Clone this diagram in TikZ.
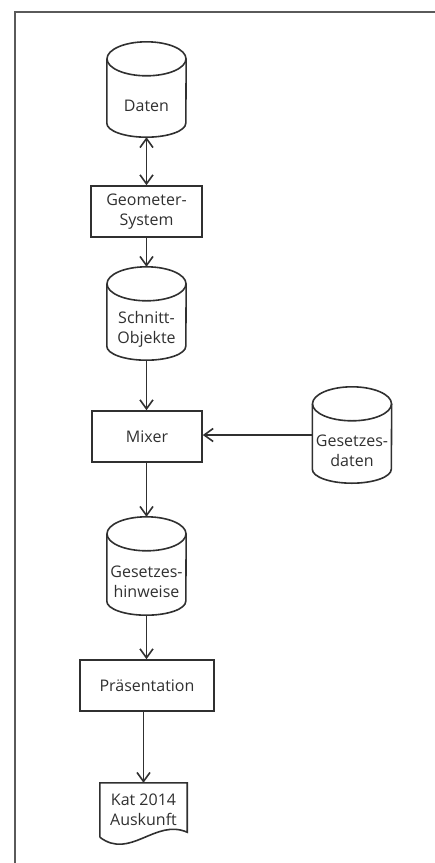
\documentclass[tikz,border=0pt]{standalone}
\usepackage{fontspec}
\setmainfont{Open Sans}
\usetikzlibrary{arrows.meta}
\definecolor{ink}{HTML}{303030}
\definecolor{frame}{HTML}{5A5A5A}
\tikzset{
  line/.style={draw=ink,line width=1.6pt},
  arr/.style={line,-{Straight Barb[length=9pt,width=13pt]}},
  dblarr/.style={line,{Straight Barb[length=9pt,width=13pt]}-{Straight Barb[length=9pt,width=13pt]}},
  txt/.style={text=ink,align=center,inner sep=0pt,font=\fontsize{16}{20.5}\selectfont},
  procbox/.style={txt,draw=ink,line width=1.6pt,minimum height=51pt,minimum width=#1},
  cylbox/.style={draw=none,inner sep=0pt,minimum width=79pt},
  docbox/.style={txt,draw=none,minimum width=87pt,minimum height=54pt},
}
\newcommand\mycyl[5]{%
  \node[cylbox,minimum height=#4] (#1) at (#2,#3) {};
  \draw[line] ([yshift=-17pt]#1.north west) -- ([yshift=14pt]#1.south west)
     arc[start angle=180,end angle=360,x radius=39.5pt,y radius=14pt]
     -- ([yshift=-17pt]#1.north east);
  \draw[line] ([yshift=-17pt]#1.north) ellipse[x radius=39.5pt,y radius=17pt];
  \node[txt] (#1-t) at ([yshift=-16pt]#1.center) {#5};
}
\begin{document}
\begin{tikzpicture}[x=1pt,y=-1pt]
\useasboundingbox (0,0) rectangle (435,863);
\coordinate (fb) at (15,863);
\coordinate (fc) at (15,12);
\coordinate (fr) at (435,12);
\draw[draw=frame,line width=1.2pt] (fb) -- (fc) -- (fr);

\mycyl{daten}{146.5}{89.5}{95pt}{Daten}
\node[procbox=111pt] (geo) at (146.5,211.5) {Geometer-\\System};
\mycyl{schnitt}{146.5}{313.5}{93pt}{Schnitt-\\Objekte}
\node[procbox=110pt] (mixer) at (147,436.5) {Mixer};
\mycyl{gdaten}{352}{435}{96pt}{Gesetzes-\\daten}
\mycyl{hinw}{146.5}{566}{98pt}{Gesetzes-\\hinweise}
\node[procbox=134pt] (praes) at (147,685.5) {Präsentation};
\node[docbox] (doc) at (143.5,810) {Kat 2014\\Auskunft};
\draw[line] (doc.south west) -- (doc.north west) -- (doc.north east)
  -- ([yshift=5pt]doc.south east)
  .. controls ([xshift=-32pt,yshift=19pt]doc.south east) and ([xshift=-57pt,yshift=-23pt]doc.south east) .. (doc.south west);

\draw[dblarr] (daten.south) -- (geo.north);
\draw[arr] (geo.south) -- (schnitt.north);
\draw[arr] (schnitt.south) -- (mixer.north -| schnitt.south);
\draw[arr] (gdaten.west) -- (gdaten.west -| mixer.east);
\draw[arr] (mixer.south -| hinw.north) -- (hinw.north);
\draw[arr] (hinw.south) -- (praes.north -| hinw.south);
\draw[arr] (praes.south -| doc.north) -- (doc.north);
\end{tikzpicture}
\end{document}
